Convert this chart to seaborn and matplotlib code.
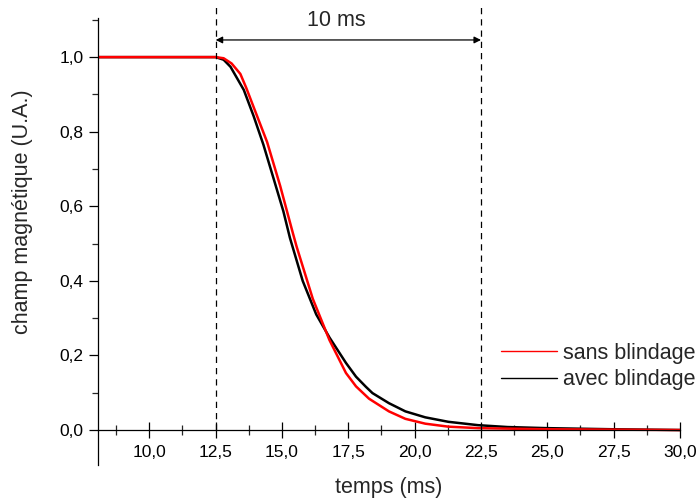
import matplotlib
matplotlib.use("Agg")
import matplotlib.pyplot as plt
import seaborn as sns
import pandas as pd
from matplotlib.ticker import MultipleLocator, FuncFormatter

# ---------------- DATA ----------------
t_avec = [8.06, 10.0, 12.0, 12.5, 12.8, 13.06, 13.56, 13.93, 14.30, 14.68, 15.05, 15.30,
          15.78, 16.29, 16.79, 17.41, 17.79, 18.16, 18.41, 19.03, 19.65,
          20.40, 21.27, 22.39, 23.5, 25.0, 27.5, 30.0]
b_avec = [1.0, 1.0, 1.0, 1.0, 0.993, 0.974, 0.912, 0.842, 0.765, 0.675, 0.587, 0.515,
          0.400, 0.310, 0.248, 0.180, 0.143, 0.116, 0.099, 0.072, 0.050,
          0.034, 0.022, 0.013, 0.008, 0.005, 0.002, 0.0]

t_sans = [8.06, 10.0, 12.0, 12.5, 12.80, 13.1, 13.43, 13.65, 13.92, 14.44, 14.93, 15.41,
          15.55, 16.16, 16.79, 17.41, 17.79, 18.28, 19.03, 19.65, 20.40, 21.27,
          22.39, 25.0, 27.5, 30.0]
b_sans = [1.0, 1.0, 1.0, 1.0, 0.997, 0.983, 0.955, 0.918, 0.868, 0.772, 0.655, 0.528,
          0.492, 0.352, 0.241, 0.153, 0.117, 0.084, 0.050, 0.030, 0.017, 0.009,
          0.005, 0.002, 0.001, 0.0]

labels = ["sans blindage", "avec blindage"]
colors = ["#ff0000", "#000000"]

df_avec = pd.DataFrame({"temps": t_avec, "champ": b_avec})
df_sans = pd.DataFrame({"temps": t_sans, "champ": b_sans})

# ---------------- STYLE ----------------
sns.set_style("ticks")
plt.rcParams["font.family"] = ["Liberation Sans", "DejaVu Sans"]

fig = plt.figure(figsize=(6.99, 4.99), dpi=100)
ax = fig.add_axes([0.140, 0.068, 0.8328, 0.896])

sns.lineplot(data=df_avec, x="temps", y="champ", color=colors[1], lw=1.8,
             sort=False, ax=ax, label=labels[1])
sns.lineplot(data=df_sans, x="temps", y="champ", color=colors[0], lw=1.8,
             sort=False, ax=ax, label=labels[0])

ax.set_xlim(8.06, 30.0)
ax.set_ylim(-0.094, 1.105)

ax.spines["top"].set_visible(False)
ax.spines["right"].set_visible(False)
ax.spines["bottom"].set_position(("data", 0))
for s in ["left", "bottom"]:
    ax.spines[s].set_linewidth(0.9)
    ax.spines[s].set_color("black")

ax.xaxis.set_major_locator(MultipleLocator(2.5))
ax.xaxis.set_minor_locator(MultipleLocator(1.25))
ax.yaxis.set_major_locator(MultipleLocator(0.2))
ax.yaxis.set_minor_locator(MultipleLocator(0.1))
comma = FuncFormatter(lambda v, p: f"{v:.1f}".replace(".", ","))
ax.xaxis.set_major_formatter(comma)
ax.yaxis.set_major_formatter(comma)

ax.tick_params(axis="x", which="major", direction="inout", length=12, width=0.9,
               labelsize=12.5, pad=5, colors="black")
ax.tick_params(axis="x", which="minor", direction="inout", length=7, width=0.9)
ax.tick_params(axis="y", which="major", direction="out", length=6.5, width=0.9,
               labelsize=12.5, pad=4, colors="black")
ax.tick_params(axis="y", which="minor", direction="out", length=4.3, width=0.9)

ax.set_xlabel("temps (ms)", fontsize=15.5)
ax.set_ylabel("champ magnétique (U.A.)", fontsize=15.5)
ax.xaxis.set_label_coords(0.5, -0.027)
ax.yaxis.set_label_coords(-0.111, 0.566)

# dashed markers and 10 ms span
for xv in [12.5, 22.5]:
    ax.plot([xv, xv], [0, 1.135], ls=(0, (5, 4)), color="black", lw=0.9,
            clip_on=False)
ax.annotate("", xy=(12.5, 1.046), xytext=(22.5, 1.046),
            arrowprops=dict(arrowstyle="<|-|>", color="black", lw=0.9,
                            mutation_scale=10, shrinkA=0, shrinkB=0),
            annotation_clip=False)
ax.text(17.05, 1.099, "10 ms", ha="center", va="center", fontsize=15.5)

# legend, red first
h, l = ax.get_legend_handles_labels()
order = [l.index(labels[0]), l.index(labels[1])]
leg = ax.legend([h[i] for i in order], [l[i] for i in order],
                loc="center left", bbox_to_anchor=(0.66, 0.22), frameon=False,
                fontsize=15.5, handlelength=2.6, handletextpad=0.25,
                labelspacing=0.25)
for line in leg.get_lines():
    line.set_linewidth(1.0)

fig.savefig("out.png", dpi=100)
